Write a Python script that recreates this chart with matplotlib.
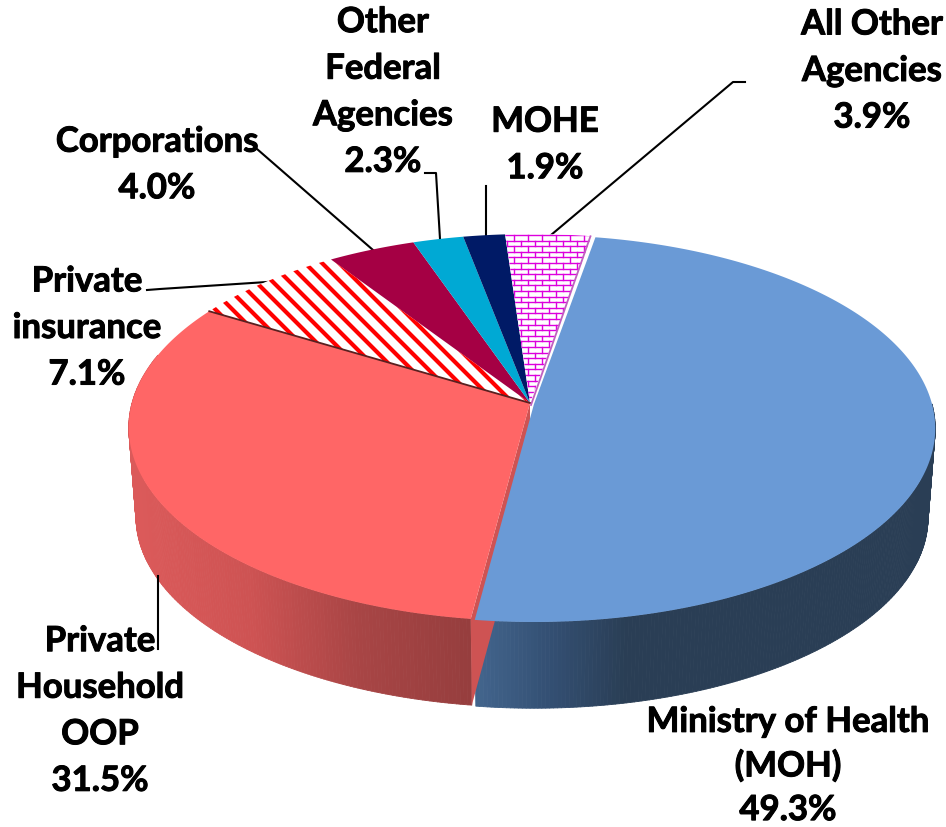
import numpy as np
import matplotlib
matplotlib.use("Agg")
import matplotlib.pyplot as plt
import matplotlib.patheffects as pe
from matplotlib.collections import PolyCollection
from matplotlib.colors import LinearSegmentedColormap
from matplotlib.patches import Polygon

labels = ["Ministry of Health\n(MOH)", "Private\nHousehold\nOOP", "Private\ninsurance", "Corporations",
          "Other\nFederal\nAgencies", "MOHE", "All Other\nAgencies"]
shares = [49.3, 31.5, 7.1, 4.0, 2.3, 1.9, 3.9]
colors = ["#6A9AD6", "#FF6666", "#FFFFFF", "#A50044", "#00A9D4", "#001A66", "#FFFFFF"]

label_pos = [(788, 767), (100, 712), (87, 329), (157, 166), (383, 93), (545, 146), (872, 72)]
label_spacing = [1.45, 1.56, 1.56, 1.56, 1.56, 1.56, 1.56]
leaders = [None,
           [(158, 577), (158, 650)],
           [(267, 283), (160, 290), (147, 291)],
           [(373, 251), (257, 150), (248, 150)],
           [(440, 240), (436, 174), (425, 174)],
           [(486, 237), (486, 187)],
           [(551, 236), (733, 83), (745, 83)]]

# pie geometry in picture pixels, a flat disc seen in perspective
apex_x, apex_y = 530, 404
rx, a, b = 398, 190.4, 0.1266
depth = 89.5
start = 10.0


def rim(t, dx=0, dy=0, low=False):
    t = np.radians(t)
    w = 1 + b * np.cos(t)
    x = rx * np.sin(t) / w
    y = -a * np.cos(t) / w
    if low:
        return apex_x + dx + x * 0.982, apex_y + dy + y * 0.985 + depth
    return apex_x + dx + x, apex_y + dy + y


fig = plt.figure(figsize=(9.46, 8.28), dpi=100)
ax = fig.add_axes([0, 0, 1, 1])
ax.set_xlim(0, 946)
ax.set_ylim(828, 0)
ax.axis("off")

angles = start + np.concatenate([[0], np.cumsum(shares)]) * 3.6
off = [(4, 1)] + [(0, 0)] * 6

red_side = LinearSegmentedColormap.from_list("r", ["#DB5A5A", "#CE5353", "#A84545", "#963E3E"])
blue_side = LinearSegmentedColormap.from_list("b", ["#42648C", "#334F72", "#2A3E55", "#2A3E55"])


def wall(i, t0, t1, cmap, x0, x1):
    ts = np.arange(t0, t1, 0.5)
    ts = np.append(ts, t1)
    quads, vals = [], []
    for p, q in zip(ts[:-1], ts[1:]):
        dx, dy = off[i]
        xa, ya = rim(p, dx, dy)
        xb, yb = rim(q, dx, dy)
        xc, yc = rim(q, dx, dy, True)
        xd, yd = rim(p, dx, dy, True)
        quads.append([(xa, ya), (xb, yb), (xc, yc), (xd, yd)])
        vals.append(np.clip(((xa + xb) / 2 - x0) / (x1 - x0), 0, 1))
    cols = cmap(np.array(vals))
    ax.add_collection(PolyCollection(quads, facecolors=cols, edgecolors=cols, linewidths=0.6, zorder=2))


# side walls, red first so that the blue one sits over the cut face
wall(1, angles[1], 285, red_side, 135, 470)
cut_top = rim(angles[1])
cut_low = rim(angles[1], low=True)
ax.add_patch(Polygon([(apex_x, apex_y), cut_top, cut_low, (apex_x, apex_y + depth)],
                     facecolor="#CE5353", edgecolor="none", zorder=2.5))
wall(0, 90, angles[1], blue_side, 478, 700)

# top faces
tops = []
for i in range(len(shares)):
    ts = np.linspace(angles[i], angles[i + 1], 200)
    xs, ys = rim(ts, *off[i])
    pts = np.column_stack([xs, ys])
    pts = np.vstack([[apex_x + off[i][0], apex_y + off[i][1]], pts])
    patch = Polygon(pts, closed=True, facecolor=colors[i], edgecolor="none", zorder=3)
    ax.add_patch(patch)
    tops.append(patch)

# striped slice
for c in np.arange(-1200, 700, 17.0):
    line, = ax.plot([c, c + 900], [0, 900], color="#FF0000", lw=3.0, zorder=3.2, solid_capstyle="butt")
    line.set_clip_path(tops[2])

# brick slice
brick_h, brick_w = 5.6, 14.0
for n, yy in enumerate(np.arange(236, 412, brick_h)):
    line, = ax.plot([500, 620], [yy, yy], color="#DD00DD", lw=1.0, zorder=3.2)
    line.set_clip_path(tops[6])
    for xx in np.arange(500 + (n % 2) * brick_w / 2, 620, brick_w):
        line, = ax.plot([xx, xx], [yy, yy + brick_h], color="#DD00DD", lw=1.0, zorder=3.2)
        line.set_clip_path(tops[6])

# thin edges on the slices
ax.plot(*zip((apex_x, apex_y), rim(angles[2])), color="#5A2020", lw=1.3, zorder=3.5)
ax.plot(*zip((apex_x + 1, apex_y + 2), rim(angles[7], -1, 0)), color="#C060C0", lw=1.3, zorder=3.5)

for line_pts in leaders:
    if line_pts:
        ax.plot(*zip(*line_pts), color="black", lw=1.5, zorder=2)

for i, name in enumerate(labels):
    ax.text(label_pos[i][0], label_pos[i][1], f"{name}\n{shares[i]:.1f}%", ha="center", va="center",
            family=["Lato", "DejaVu Sans"], fontweight="bold", fontsize=25, linespacing=label_spacing[i],
            color="black", zorder=5, path_effects=[pe.withStroke(linewidth=0.7, foreground="black")])

fig.savefig("out.png", dpi=100)
